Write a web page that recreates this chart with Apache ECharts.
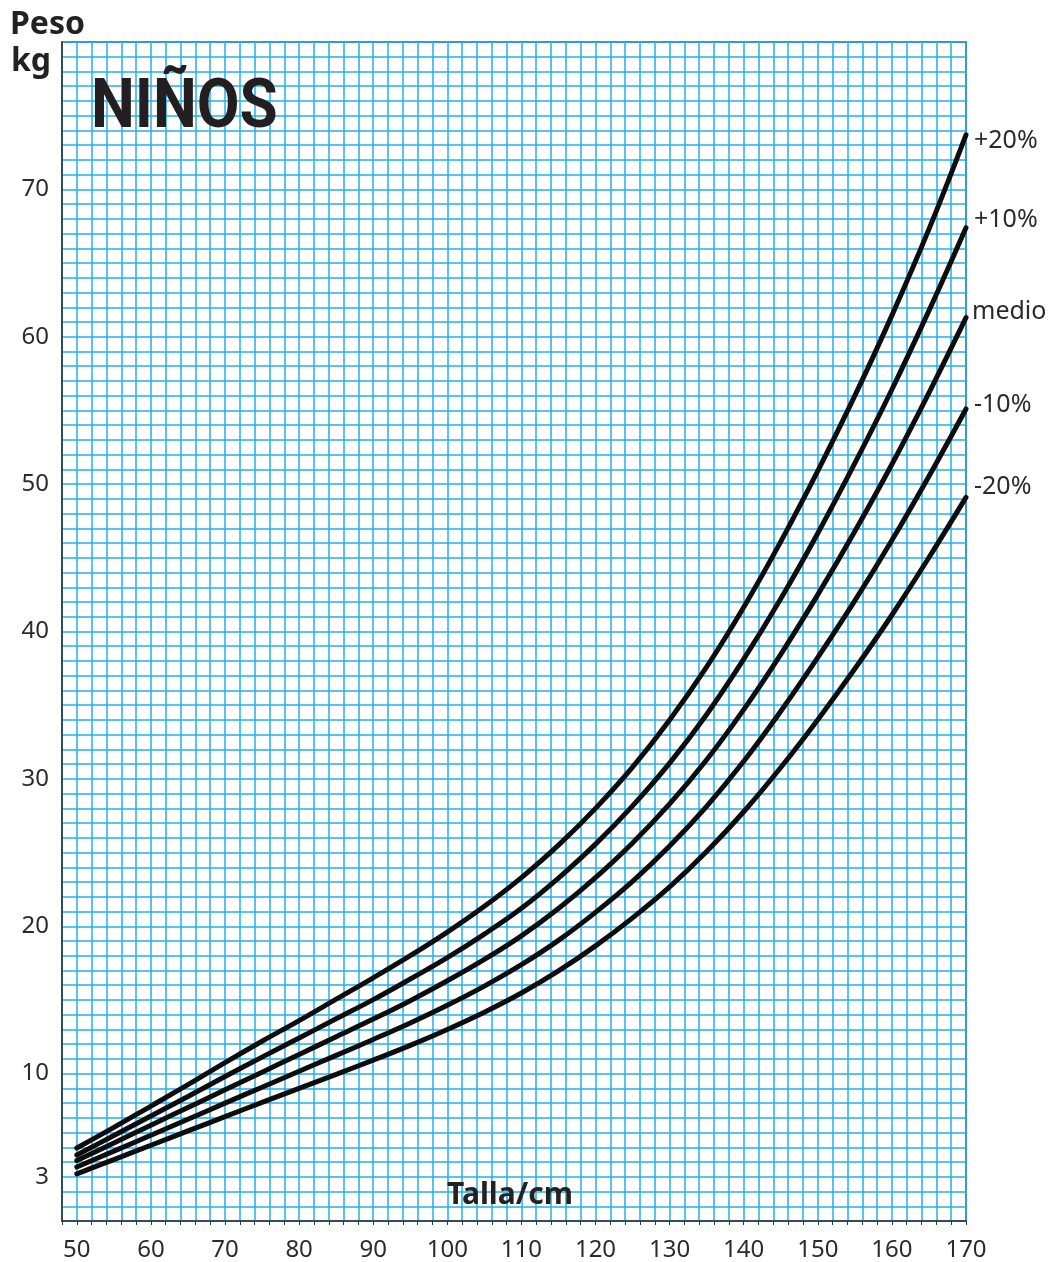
<!DOCTYPE html>
<html>
<head>
<meta charset="utf-8">
<script src="https://cdn.jsdelivr.net/npm/echarts@6/dist/echarts.min.js"></script>
<style>
html,body{margin:0;padding:0;background:#fff;}
#chart{width:1051px;height:1262px;}
</style>
</head>
<body>
<div id="chart"></div>
<script>
// Heights (cm)
const heights = [50,55,60,65,70,75,80,85,90,95,100,105,110,115,120,125,130,135,140,145,150,155,160,165,170];
// Weight curves (kg)
const plus20  = [4.95,6.35,7.8,9.25,10.75,12.2,13.6,15.05,16.5,18.0,19.6,21.35,23.3,25.5,28.0,30.8,34.0,37.6,41.65,46.1,50.9,56.0,61.45,67.3,73.7];
const plus10  = [4.48,5.8,7.12,8.45,9.8,11.12,12.42,13.72,15.02,16.42,17.87,19.47,21.22,23.27,25.57,28.17,31.07,34.37,38.12,42.22,46.67,51.42,56.42,61.77,67.4];
const medio   = [4.1,5.3,6.5,7.7,8.9,10.1,11.3,12.5,13.7,14.95,16.3,17.75,19.35,21.2,23.3,25.65,28.3,31.3,34.7,38.45,42.5,46.8,51.35,56.2,61.3];
const minus10 = [3.66,4.74,5.82,6.9,8.0,9.08,10.16,11.24,12.32,13.44,14.64,15.94,17.39,19.04,20.94,23.04,25.44,28.14,31.19,34.59,38.24,42.09,46.19,50.54,55.1];
const minus20 = [3.2,4.17,5.14,6.11,7.08,8.05,9.0,9.95,10.92,11.92,13.0,14.17,15.47,16.97,18.67,20.57,22.67,25.07,27.77,30.77,34.02,37.47,41.12,45.02,49.1];
const seriesNames = ['+20%','+10%','medio','-10%','-20%'];
const yTickLabels = [3,10,20,30,40,50,60,70];
const xTickLabels = [50,60,70,80,90,100,110,120,130,140,150,160,170];

const curves = [plus20, plus10, medio, minus10, minus20];
const labelOffsets = [[3,6],[3,-8],[1,-6],[3,-4],[3,-11]];
const FONT = '"Noto Sans", "Open Sans", sans-serif';

const chart = echarts.init(document.getElementById('chart'), null, {renderer:'canvas'});
const option = {
  animation: false,
  backgroundColor: '#ffffff',
  grid: {left: 62, right: 85, top: 42, bottom: 40, show: true, borderColor: '#333', borderWidth: 1.5, backgroundColor: '#fff'},
  xAxis: {
    type: 'value', min: 48, max: 170, interval: 2,
    axisLine: {show: true, lineStyle: {color: '#333', width: 1.5}},
    axisTick: {show: true, length: 4, lineStyle: {color: '#333', width: 1}},
    splitLine: {show: true, lineStyle: {color: '#1fb1ec', width: 1.5}},
    axisLabel: {
      margin: 17, color: '#2b2b2b', fontSize: 24, fontFamily: FONT,
      formatter: v => xTickLabels.indexOf(v) >= 0 ? String(v) : ''
    }
  },
  yAxis: {
    type: 'value', min: 0, max: 80, interval: 1,
    axisLine: {show: true, lineStyle: {color: '#333', width: 1.5}},
    axisTick: {show: false},
    splitLine: {show: true, lineStyle: {color: '#1fb1ec', width: 1.5}},
    axisLabel: {
      margin: 13, color: '#2b2b2b', fontSize: 24, fontFamily: FONT, padding: [6, 0, 0, 0],
      formatter: v => yTickLabels.indexOf(v) >= 0 ? String(v) : ''
    }
  },
  graphic: [
    {type: 'text', left: 10, top: 9, z: 100, style: {text: 'Peso', font: 'bold 32px ' + FONT, fill: '#222'}},
    {type: 'text', left: 11, top: 46, z: 100, style: {text: 'kg', font: 'bold 32px ' + FONT, fill: '#222'}},
    {type: 'text', left: 91, top: 75, z: 100, scaleX: 0.9, style: {text: 'NIÑOS', font: 'bold 69px Roboto, ' + FONT, fill: '#231f20'}},
    {type: 'text', left: 447, top: 1180, z: 100, style: {text: 'Talla/cm', font: 'bold 30px ' + FONT, fill: '#222'}}
  ],
  series: curves.map((c, i) => ({
    name: seriesNames[i],
    type: 'line',
    smooth: 0.4,
    showSymbol: false,
    symbol: 'none',
    clip: false,
    lineStyle: {color: '#0d0d0d', width: 5, cap: 'round'},
    data: heights.map((h, j) => [h, c[j]]),
    endLabel: {
      show: true, formatter: seriesNames[i], color: '#2b2b2b', fontSize: 25, fontFamily: FONT,
      distance: 5, offset: labelOffsets[i]
    },
    z: 10
  }))
};
chart.setOption(option);
</script>
</body>
</html>
